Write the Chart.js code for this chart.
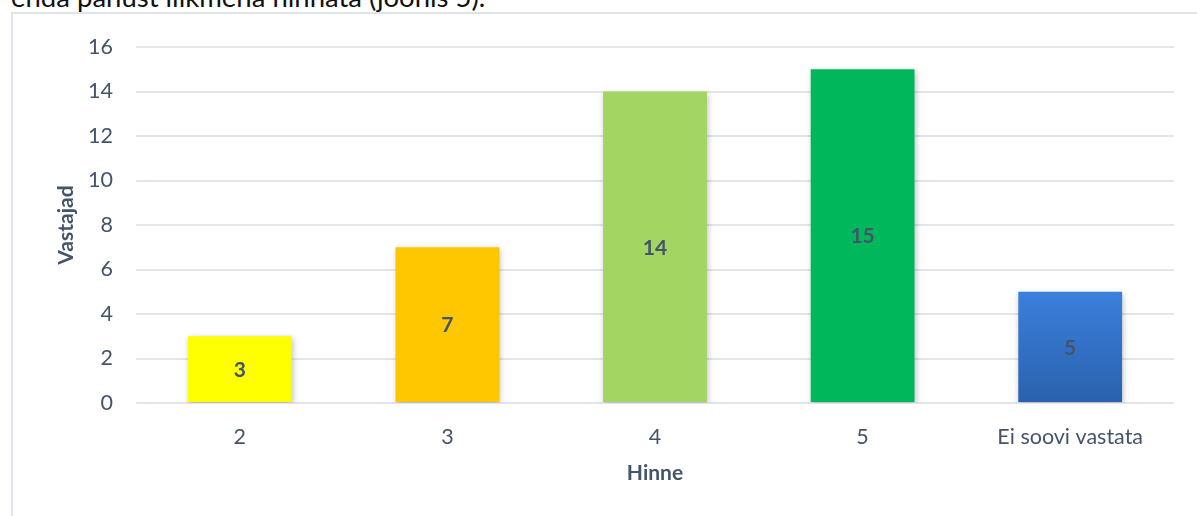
<!DOCTYPE html>
<html>
<head>
<meta charset="utf-8">
<script src="https://cdn.jsdelivr.net/npm/chart.js@4.4.1/dist/chart.umd.min.js"></script>
<style>
  html, body { margin: 0; padding: 0; background: #fff; overflow: hidden; }
  #wrap { position: relative; width: 1197px; height: 516px; overflow: hidden; }
  #intro { position: absolute; left: 11px; top: -20px; font-family: Lato, sans-serif; font-size: 27.5px; line-height: normal; color: #111; white-space: nowrap; }
  #frame { position: absolute; left: 11px; top: 12px; width: 1300px; height: 600px; border-left: 2px solid #e0e4ea; border-top: 2px solid #e0e4ea; }
  #c { position: absolute; left: 0; top: 0; }
</style>
</head>
<body>
<div id="wrap">
  <div id="intro">enda panust liikmena hinnata (joonis 5).</div>
  <div id="frame"></div>
  <canvas id="c" width="1197" height="516"></canvas>
</div>
<script>
const categories = ['2', '3', '4', '5', 'Ei soovi vastata'];
const respondents = [3, 7, 14, 15, 5];
const barColors = ['#FFFF00', '#FFC700', '#A3D563', '#00B85C', 'blueGradient'];
const yTicks = [0, 2, 4, 6, 8, 10, 12, 14, 16];
const xTitle = 'Hinne';
const yTitle = 'Vastajad';

const TEXT = '#44546A';
const FONT = 'Lato, "Open Sans", sans-serif';

function barColor(ctx) {
  const c = barColors[ctx.dataIndex];
  if (c !== 'blueGradient') return c;
  const chart = ctx.chart;
  const area = chart.chartArea;
  const ys = chart.scales && chart.scales.y;
  if (!area || !ys) return '#3278D0';
  const top = ys.getPixelForValue(respondents[ctx.dataIndex]);
  const g = chart.ctx.createLinearGradient(0, top, 0, ys.getPixelForValue(0));
  g.addColorStop(0, '#3A80DD');
  g.addColorStop(1, '#2A61AD');
  return g;
}

const shadowPlugin = {
  id: 'barShadow',
  beforeDatasetDraw(chart) {
    const c = chart.ctx;
    c.save();
    c.shadowColor = 'rgba(0,0,0,0.25)';
    c.shadowBlur = 6;
    c.shadowOffsetX = 1;
    c.shadowOffsetY = 2;
  },
  afterDatasetDraw(chart) {
    chart.ctx.restore();
  }
};

const labelPlugin = {
  id: 'barLabels',
  afterDatasetsDraw(chart) {
    const c = chart.ctx;
    const meta = chart.getDatasetMeta(0);
    c.save();
    c.font = 'bold 21px ' + FONT;
    c.fillStyle = TEXT;
    c.textAlign = 'center';
    c.textBaseline = 'middle';
    meta.data.forEach((el, i) => {
      const p = el.getCenterPoint();
      c.fillText(String(respondents[i]), p.x, p.y + 1);
    });
    c.restore();
  }
};

new Chart(document.getElementById('c'), {
  type: 'bar',
  data: {
    labels: categories,
    datasets: [{
      data: respondents,
      backgroundColor: barColor,
      borderWidth: 0,
      barPercentage: 0.5,
      categoryPercentage: 1.0
    }]
  },
  options: {
    responsive: false,
    animation: false,
    devicePixelRatio: 1,
    layout: { padding: { left: 0, top: 47, right: 23, bottom: 0 } },
    plugins: { legend: { display: false }, tooltip: { enabled: false } },
    scales: {
      x: {
        grid: { display: false, drawTicks: false },
        border: { display: false },
        ticks: { color: TEXT, font: { family: FONT, size: 21.5 }, padding: 21 },
        title: { display: true, text: xTitle, color: TEXT, font: { family: FONT, size: 21, weight: 'bold' }, padding: { top: 0, bottom: 30 } },
        afterFit(scale) { scale.height = 113; }
      },
      y: {
        min: 0, max: 16,
        afterBuildTicks(scale) { scale.ticks = yTicks.map(v => ({ value: v })); },
        grid: { color: '#E2E6EC', lineWidth: 2, drawTicks: false },
        border: { display: false },
        ticks: { color: TEXT, font: { family: FONT, size: 21.5 }, padding: 23 },
        title: { display: true, text: yTitle, color: TEXT, font: { family: FONT, size: 21, weight: 'bold' }, padding: { top: 54, bottom: 0 } },
        afterFit(scale) { scale.width = 136; }
      }
    }
  },
  plugins: [shadowPlugin, labelPlugin]
});
</script>
</body>
</html>
